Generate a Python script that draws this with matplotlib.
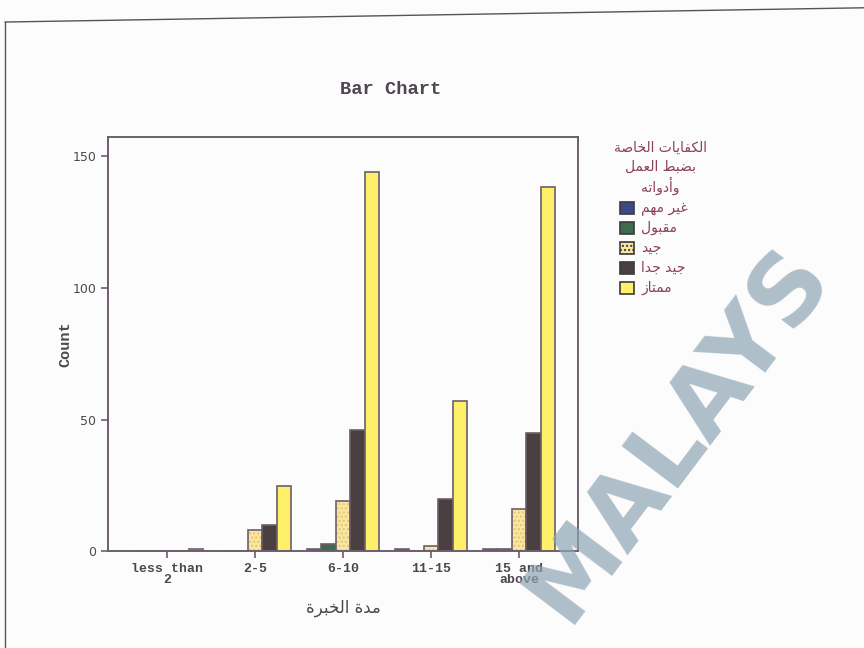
import numpy as np
import matplotlib.pyplot as plt
from matplotlib.lines import Line2D

# data
groups = ["less than\n2", "2-5", "6-10", "11-15", "15 and\nabove"]
series = ["غير مهم", "مقبول", "جيد", "جيد جدا", "ممتاز"]
not_important = [0, 0, 1, 1, 1]
acceptable = [0, 0, 3, 0, 1]
good = [0, 8, 19, 2, 16]
very_good = [0, 10, 46, 20, 45]
excellent = [1, 25, 144, 57, 138]
legend_title = ["الكفايات الخاصة", "بضبط العمل", "وأدواته"]
x_title = "مدة الخبرة"

colors = ["#3d4a8a", "#3f6a4c", "#f7e7a3", "#4a4040", "#fff06a"]
edge = "#6d5e6e"
txt = "#4f4650"
leg_txt = "#8a3f5c"

# minimal arabic shaping (matplotlib has no RTL / joining support)
FORMS = {
    "ا": ("\uFE8D", "\uFE8E", None, None),
    "أ": ("\uFE83", "\uFE84", None, None),
    "ب": ("\uFE8F", "\uFE90", "\uFE91", "\uFE92"),
    "ة": ("\uFE93", "\uFE94", None, None),
    "ت": ("\uFE95", "\uFE96", "\uFE97", "\uFE98"),
    "ج": ("\uFE9D", "\uFE9E", "\uFE9F", "\uFEA0"),
    "خ": ("\uFEA5", "\uFEA6", "\uFEA7", "\uFEA8"),
    "د": ("\uFEA9", "\uFEAA", None, None),
    "ر": ("\uFEAD", "\uFEAE", None, None),
    "ز": ("\uFEAF", "\uFEB0", None, None),
    "ص": ("\uFEB9", "\uFEBA", "\uFEBB", "\uFEBC"),
    "ض": ("\uFEBD", "\uFEBE", "\uFEBF", "\uFEC0"),
    "ط": ("\uFEC1", "\uFEC2", "\uFEC3", "\uFEC4"),
    "ع": ("\uFEC9", "\uFECA", "\uFECB", "\uFECC"),
    "غ": ("\uFECD", "\uFECE", "\uFECF", "\uFED0"),
    "ف": ("\uFED1", "\uFED2", "\uFED3", "\uFED4"),
    "ق": ("\uFED5", "\uFED6", "\uFED7", "\uFED8"),
    "ك": ("\uFED9", "\uFEDA", "\uFEDB", "\uFEDC"),
    "ل": ("\uFEDD", "\uFEDE", "\uFEDF", "\uFEE0"),
    "م": ("\uFEE1", "\uFEE2", "\uFEE3", "\uFEE4"),
    "ن": ("\uFEE5", "\uFEE6", "\uFEE7", "\uFEE8"),
    "ه": ("\uFEE9", "\uFEEA", "\uFEEB", "\uFEEC"),
    "و": ("\uFEED", "\uFEEE", None, None),
    "ي": ("\uFEF1", "\uFEF2", "\uFEF3", "\uFEF4"),
}


def shape(s):
    out = []
    for i, ch in enumerate(s):
        if ch not in FORMS:
            out.append(ch)
            continue
        prev = s[i - 1] if i > 0 else ""
        nxt = s[i + 1] if i + 1 < len(s) else ""
        iso, fin, ini, med = FORMS[ch]
        jp = prev in FORMS and FORMS[prev][2] is not None
        jn = nxt in FORMS and ini is not None
        if jp and jn:
            out.append(med)
        elif jp:
            out.append(fin)
        elif jn:
            out.append(ini)
        else:
            out.append(iso)
    return "".join(out)[::-1]


mono = ["Liberation Mono", "DejaVu Sans"]
arab = ["DejaVu Sans"]

fig = plt.figure(figsize=(8.64, 6.48), dpi=100)
fig.patch.set_facecolor("#fcfcfc")
ax = fig.add_axes([0.125, 0.149, 0.544, 0.639])
ax.set_facecolor("#fcfcfc")

values = [not_important, acceptable, good, very_good, excellent]
x = np.arange(len(groups))
w = 0.165
for k, vals in enumerate(values):
    pos = x + (k - 2) * w
    if k == 2:
        ax.bar(pos, vals, w, color=colors[k], edgecolor="#e9c36a", hatch="....", linewidth=0)
        ax.bar(pos, vals, w, color="none", edgecolor=edge, linewidth=1.2)
    else:
        ax.bar(pos, vals, w, color=colors[k], edgecolor=edge, linewidth=1.2)

ax.set_xlim(-0.67, 4.67)
ax.set_ylim(0, 157)
ax.set_yticks([0, 50, 100, 150])
ax.set_xticks(x)
ax.set_xticklabels(groups, fontsize=9.5, family=mono, fontweight="bold", color=txt, linespacing=0.9)
for lab in ax.get_yticklabels():
    lab.set_fontsize(9)
    lab.set_color(txt)
for s in ax.spines.values():
    s.set_color(edge)
    s.set_linewidth(1.4)
ax.tick_params(colors=edge, length=5, width=1.2, labelcolor=txt)
ax.set_ylabel("Count", fontsize=11, family=mono, fontweight="bold", color=txt, labelpad=0)
ax.set_xlabel(shape(x_title), fontsize=12, family=arab, color=txt, labelpad=9)

fig.text(0.452, 0.862, "Bar Chart", ha="center", va="center", fontsize=13.5,
         family=mono, fontweight="bold", color=txt)

# legend drawn by hand to follow the scanned layout
for i, line in enumerate(legend_title):
    fig.text(0.764, 1 - (148 + i * 19) / 648, shape(line), ha="center", va="center",
             fontsize=10, family=arab, color=leg_txt)
for k, name in enumerate(series):
    yy = 1 - (208 + k * 20) / 648
    fig.patches.append(plt.Rectangle((0.718, yy - 0.01), 0.016, 0.02, transform=fig.transFigure,
                                     facecolor=colors[k], edgecolor="#3a3a3a", linewidth=1.2,
                                     hatch="...." if k == 2 else None))
    fig.text(0.742, yy, shape(name), ha="left", va="center", fontsize=10, family=arab, color=leg_txt)

# page frame of the scan
fig.add_artist(Line2D([0.006, 1.0], [0.966, 0.988], color="#555555", linewidth=1.0))
fig.add_artist(Line2D([0.006, 0.006], [0.0, 0.966], color="#555555", linewidth=1.0))

# watermark of the scanned page
fig.text(0.655, 0.035, "MALAYS", rotation=53, rotation_mode="anchor", ha="left", va="baseline",
         fontsize=70, fontweight="bold", family="DejaVu Sans", color="#8ea5b5", alpha=0.7, zorder=5)

fig.savefig("out.png", dpi=100, facecolor=fig.get_facecolor())
